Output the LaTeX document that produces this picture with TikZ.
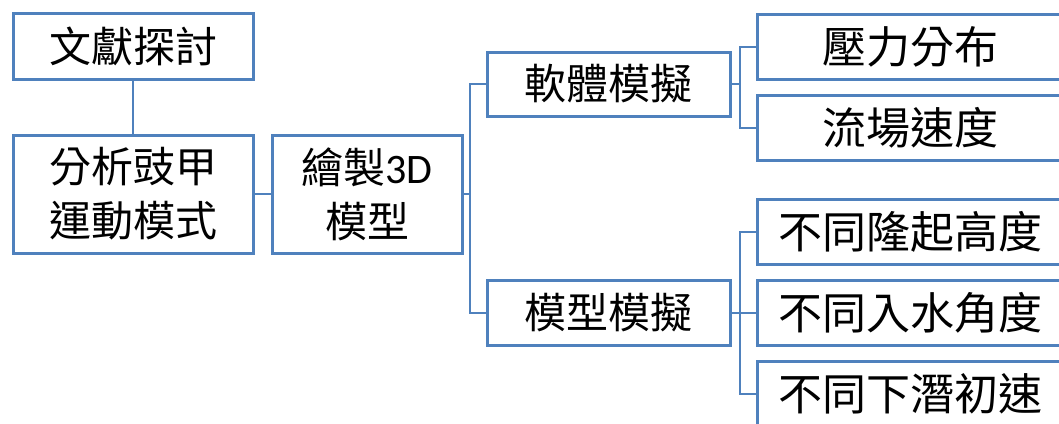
\documentclass[tikz,border=0pt]{standalone}
\usepackage{fontspec}
\newfontfamily\cjk{Noto Sans CJK TC}
\newfontfamily\carlito{Carlito}
\definecolor{officeblue}{HTML}{4F81BD}
\tikzset{
  box/.style={draw=officeblue, line width=3pt, fill=white, rectangle, inner sep=0pt, align=center, font=\cjk\fontsize{42}{54}\selectfont},
  rbox/.style={box, minimum width=306pt, minimum height=65pt, font=\cjk\fontsize{44}{54}\selectfont},
  conn/.style={draw=officeblue, line width=2pt}
}
\begin{document}
\begin{tikzpicture}[x=1pt,y=-1pt]
\useasboundingbox (0,0) rectangle (1059,423);
\clip (0,0) rectangle (1059,423);
\node[box, minimum width=240pt, minimum height=66pt] (lit) at (133,46) {文獻探討};
\node[box, minimum width=240pt, minimum height=118pt] (anal) at (133,194) {分析豉甲\\運動模式};
\node[box, minimum width=190pt, minimum height=118pt] (d3) at (367,194) {繪製{\carlito 3D}\\模型};
\node[box, minimum width=243pt, minimum height=64pt] (soft) at (608.5,84) {軟體模擬};
\node[box, minimum width=243pt, minimum height=65pt] (model) at (608.5,312.5) {模型模擬};
\node[rbox] (p1) at (910,46.5) {壓力分布};
\node[rbox] (p2) at (910,128) {流場速度};
\node[rbox] (m1) at (910,231.5) {不同隆起高度};
\node[rbox] (m2) at (910,312.5) {不同入水角度};
\node[rbox] (m3) at (910,393.5) {不同下潛初速};
\coordinate (t) at (470,194);
\coordinate (b1) at (740,84);
\coordinate (b2) at (740,312.5);
\draw[conn] (lit.south) -- (anal.north);
\draw[conn] (anal.east) -- (d3.west);
\draw[conn] (d3.east) -- (t);
\draw[conn] (t) |- (soft.west);
\draw[conn] (t) |- (model.west);
\draw[conn] (soft.east) -- (b1);
\draw[conn] (b1) |- (p1.west);
\draw[conn] (b1) |- (p2.west);
\draw[conn] (model.east) -- (b2);
\draw[conn] (b2) |- (m1.west);
\draw[conn] (b2) |- (m2.west);
\draw[conn] (b2) |- (m3.west);
\end{tikzpicture}
\end{document}
